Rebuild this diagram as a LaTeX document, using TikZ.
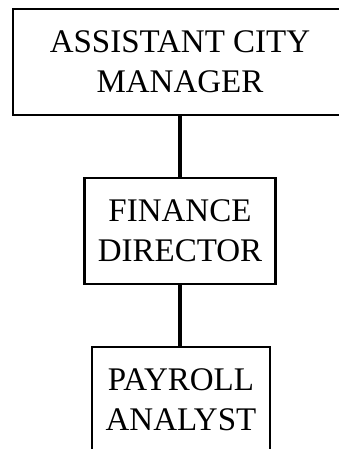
\documentclass[tikz,border=0pt]{standalone}
\usepackage{fontspec}
\setmainfont{Liberation Serif}

\begin{document}
\begin{tikzpicture}
        [x=1bp,y=-1bp,
         box/.style={draw,line width=2.5bp,shape=rectangle,align=center,inner sep=0,
                     font=\fontsize{33bp}{40bp}\selectfont},
         link/.style={line width=4.5bp}]

        \useasboundingbox (0, 0) rectangle (338, 449);

        \node[box,minimum width=334bp,minimum height=106bp] (acm) at (180, 62) {ASSISTANT CITY\\MANAGER};
        \node[box,minimum width=191bp,minimum height=106bp] (fd) at (180, 231) {FINANCE\\DIRECTOR};
        \node[box,minimum width=178bp,minimum height=105bp] (pa) at (181, 399.5) {PAYROLL\\ANALYST};

        \draw[link] (acm.south) -- (fd.north);
        \draw[link] (fd.south) -- (pa.north -| fd.south);
      \end{tikzpicture}
\end{document}
